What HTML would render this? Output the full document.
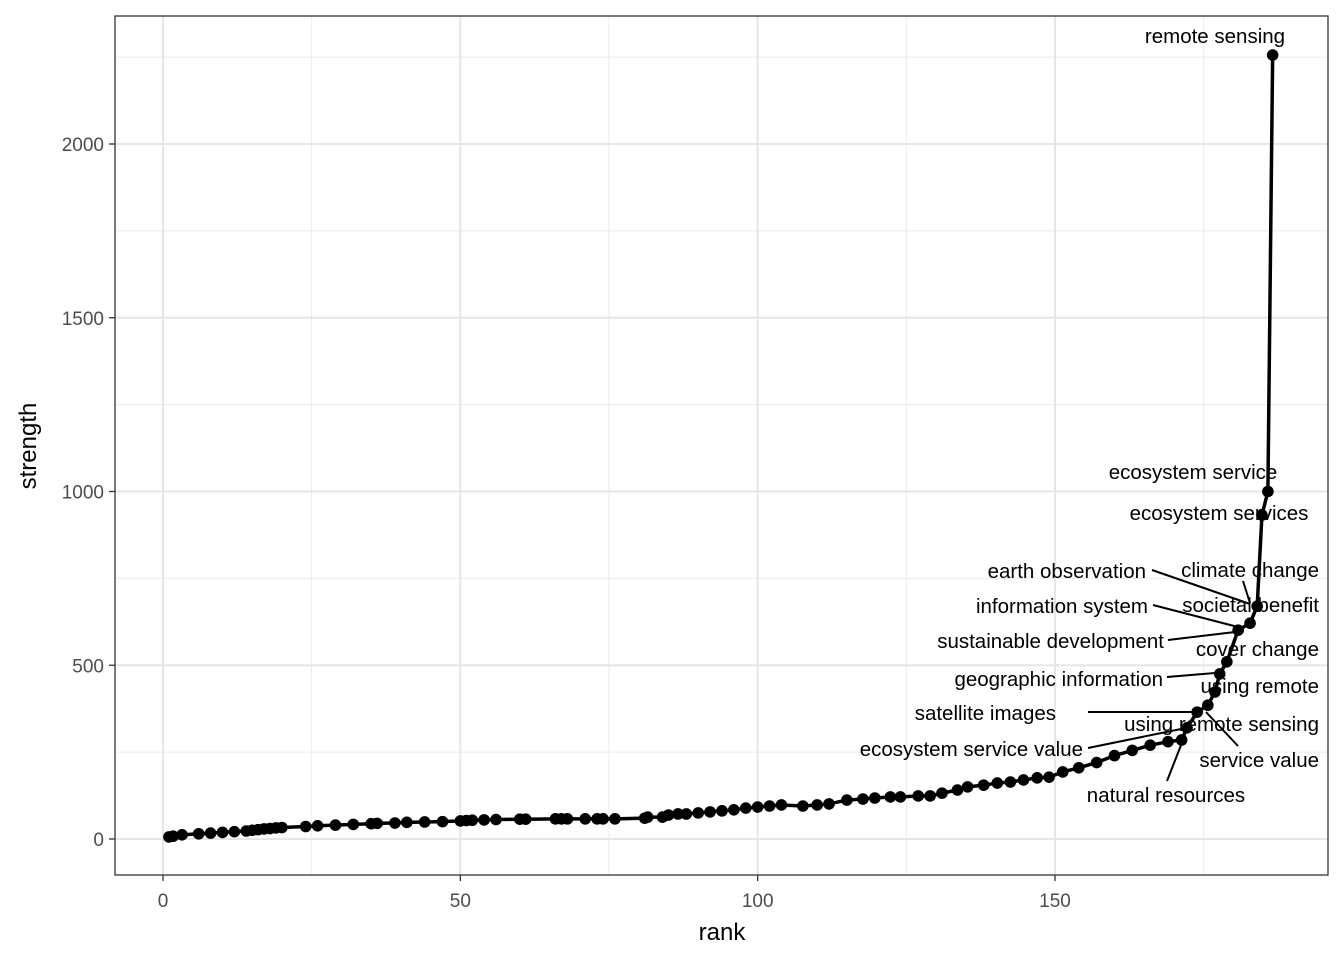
<!DOCTYPE html>
<html><head><meta charset="utf-8"><style>
body{margin:0;background:#fff}
svg{display:block;font-family:"Liberation Sans",Arial,sans-serif}
</style></head><body>
<svg id="chart" width="1344" height="960" viewBox="0 0 1344 960"></svg>
<script>
const ranks=[
1,1.7,3.2,6,8,10,12,14,15,16,
17,18,19,20,24,26,29,32,35,36,
39,41,44,47,50,51,52,54,56,60,
61,66,67,68,71,73,74,76,81,81.5,
84,85,86.6,88,90,92,94,96,98,100,
102,104,107.6,110,112,115,117.7,119.7,122.3,124,
127,129,131,133.6,135.3,138,140.3,142.5,144.7,147,
149,151.3,154,157,160,163,166,169,171.3,172.2,
173.9,175.7,176.9,177.7,178.9,180.8,182.8,184,184.8,185.8,
186.6];
const strengths=[
6,8,12,15,17,19,21,23,25,27,
29,30,32,33,36,38,40,42,44,45,
46,48,49,50,52,53,54,55,56,57,
57,58,58,58,58,58,58,58,60,63,
63,69,72,72,75,78,81,84,89,92,
95,98,95,98,101,112,115,118,121,121,
124,124,132,141,150,155,161,164,170,176,
178,193,205,220,240,255,270,280,285,320,
365,385,423,475,510,601,621,670,932,1000,
2256];
const xTicks=[0,50,100,150];
const yTicks=[0,500,1000,1500,2000];
const NS="http://www.w3.org/2000/svg";
const svg=document.getElementById('chart');
const L=115,R=1328,T=16,B=875;
const xs=r=>163+r*(1055-163)/150;
const ys=s=>839-s*(839-144)/2000;
function mk(tag,attrs,parent){const e=document.createElementNS(NS,tag);for(const k in attrs)e.setAttribute(k,attrs[k]);(parent||svg).appendChild(e);return e;}
const bg=mk('rect',{x:L,y:T,width:R-L,height:B-T,fill:'#fff'});


const grid=mk('g',{});


[25,75,125,175].forEach(v=>mk('line',{x1:xs(v),x2:xs(v),y1:T,y2:B,stroke:'#ebebeb','stroke-width':1},grid));
[250,750,1250,1750,2250].forEach(v=>mk('line',{x1:L,x2:R,y1:ys(v),y2:ys(v),stroke:'#ebebeb','stroke-width':1},grid));
xTicks.forEach(v=>mk('line',{x1:xs(v),x2:xs(v),y1:T,y2:B,stroke:'#e6e6e6','stroke-width':2},grid));
yTicks.forEach(v=>mk('line',{x1:L,x2:R,y1:ys(v),y2:ys(v),stroke:'#e6e6e6','stroke-width':2},grid));
const border=mk('rect',{x:L,y:T,width:R-L,height:B-T,fill:'none',stroke:'#333','stroke-width':1.3});


xTicks.forEach(v=>{mk('line',{x1:xs(v),x2:xs(v),y1:B,y2:B+6,stroke:'#333','stroke-width':1.3});
 const t=mk('text',{x:xs(v),y:B+32,'text-anchor':'middle','font-size':19,fill:'#4d4d4d'});t.textContent=v;
 
 });
yTicks.forEach(v=>{mk('line',{x1:L-6,x2:L,y1:ys(v),y2:ys(v),stroke:'#333','stroke-width':1.3});
 const t=mk('text',{x:L-11,y:ys(v)+7,'text-anchor':'end','font-size':19,fill:'#4d4d4d'});t.textContent=v;
 
 });
const xt=mk('text',{x:722,y:940,'text-anchor':'middle','font-size':24,fill:'#000'});xt.textContent='rank';


const yt=mk('text',{x:0,y:0,'text-anchor':'middle','font-size':24,fill:'#000',transform:'translate(36,446) rotate(-90)'});yt.textContent='strength';


const n=Math.min(ranks.length,strengths.length);
const pts=[];for(let i=0;i<n;i++)pts.push(xs(ranks[i])+','+ys(strengths[i]));
const line=mk('polyline',{points:pts.join(' '),fill:'none',stroke:'#000','stroke-width':3.5});


for(let i=0;i<n;i++){const c=mk('circle',{cx:xs(ranks[i]),cy:ys(strengths[i]),r:5.8,fill:'#000'});
 
 }
const labels=[
['remote sensing',1215,43,'middle'],
['ecosystem service',1193,479,'middle'],
['ecosystem services',1219,520,'middle'],
['climate change',1319,577,'end',1243,581,1250,603],
['earth observation',1146,578,'end',1152,570,1250,604],
['societal benefit',1319,612,'end'],
['information system',1148,613,'end',1153,605,1238,627],
['sustainable development',1164,648,'end',1168,640,1235,632],
['cover change',1319,656,'end'],
['geographic information',1163,686,'end',1167,677,1215,673],
['using remote',1319,693,'end'],
['satellite images',1056,720,'end',1088,712,1198,712],
['using remote sensing',1319,731,'end'],
['ecosystem service value',1083,756,'end',1088,748,1186,728],
['service value',1319,767,'end',1238,746,1206,712],
['natural resources',1166,802,'middle',1167,781,1185,735]
];
labels.forEach(l=>{
 if(l.length>4){const s=mk('line',{x1:l[4],y1:l[5],x2:l[6],y2:l[7],stroke:'#000','stroke-width':2});
  
  }
 const t=mk('text',{x:l[1],y:l[2],'text-anchor':l[3],'font-size':20.5,fill:'#000'});t.textContent=l[0];
 
 
});
</script>
</body></html>
